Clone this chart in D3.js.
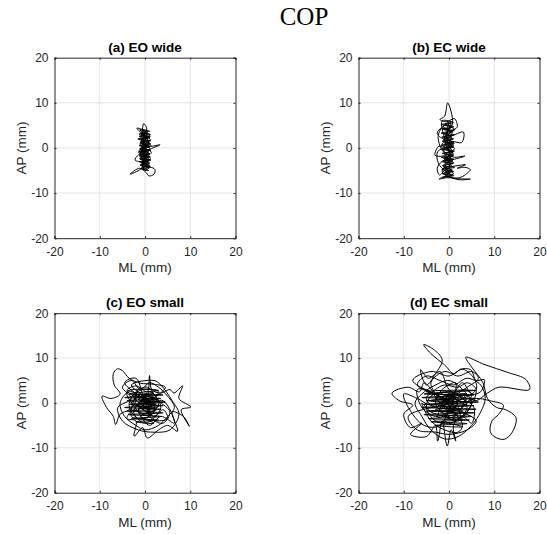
<!DOCTYPE html>
<html><head><meta charset="utf-8">
<script src="https://cdn.jsdelivr.net/npm/d3@7"></script>
<style>
html,body{margin:0;padding:0;background:#fff;}
svg{display:block;}
text{font-family:"Liberation Sans",Arial,sans-serif;}
</style></head>
<body>
<svg id="chart" width="547" height="534"></svg>
<script>
// ---------- data ----------
const figureTitle = "COP";
const panelTitles = ["(a) EO wide", "(b) EC wide", "(c) EO small", "(d) EC small"];
const xLabel = "ML (mm)";
const yLabel = "AP (mm)";
const tickValues = [-20, -10, 0, 10, 20];
const axisDomain = [-20, 20];

// COP trajectories [ML, AP] in mm
const copEOwide = [
 [0,0],[0.8,1.5],[-0.6,2.8],[0.5,3.6],[-1.2,4.3],[-1.8,4.4],[-0.8,3.5],[-0.3,5.4],[0.4,4.2],[-0.9,2.2],
 [1.1,1.0],[-1.0,-0.3],[0.9,-1.2],[-1.2,-2.0],[0.7,-0.5],[3.3,0.7],[1.0,0.4],[-0.8,1.8],[1.2,2.6],[-1.1,0.9],
 [0.3,-0.8],[-1.4,-1.5],[-2.2,-2.7],[-0.2,-3.0],[1.3,-2.4],[-1.0,-3.8],[0.8,-4.1],[-0.5,-2.7],[1.4,-1.0],[-0.7,0.5],
 [0.6,2.0],[-1.3,3.1],[1.0,3.0],[-0.4,1.0],[1.1,-0.2],[-1.5,-0.9],[0.2,-2.0],[-0.9,-4.6],[-3.3,-5.8],[-1.2,-4.5],
 [0.2,-5.4],[0.9,-6.2],[2.0,-5.8],[2.2,-4.8],[1.2,-4.3],[0.0,-5.0],[-0.6,-3.4],[1.0,-3.2],[-1.2,-2.4],[0.5,-1.5],
 [-0.8,-0.2],[1.3,0.5],[-0.2,1.6],[-1.6,2.0],[0.4,2.5],[-0.7,3.2],[1.2,1.8],[-1.0,1.2],[0.6,0.2],[-1.3,-0.6],
 [0.9,-2.0],[-0.4,-3.5],[1.1,-4.0],[-0.6,-4.8],[0.5,-3.0],[-1.1,-1.4],[0.3,0.8],[-0.5,-0.4],[0.8,-0.9],[-0.9,1.4],
 [0.5,3.0],[-1.2,4.0],[1.0,3.7],[-1.0,3.3],[1.2,3.0],[-1.3,2.6],[1.1,2.3],[-1.2,1.9],[1.3,1.6],[-1.1,1.2],
 [1.2,0.9],[-1.3,0.5],[1.1,0.2],[-1.2,-0.2],[1.3,-0.5],[-1.2,-0.9],[1.1,-1.3],[-1.3,-1.6],[1.2,-2.0],[-1.1,-2.4],
 [1.3,-2.7],[-1.2,-3.1],[1.0,-3.5],[-1.1,-3.8],[1.2,-4.2],[-0.9,-4.6],[0.8,-5.0],[-0.6,-4.4],[0.9,-3.9],[-0.8,-3.3],
 [0.7,-2.9],[-0.9,-2.5],[0.8,-2.1],[-0.7,-1.7],[0.9,-1.3],[-0.8,-0.8],[0.6,-0.4],[-0.9,0.1],[0.8,0.6],[-0.7,1.1],
 [0.9,1.5],[-0.8,2.0],[0.7,2.4],[-0.9,2.9],[0.6,3.3],[-0.5,3.9],[0.3,3.1],[-0.4,2.2],[0.4,1.3],[-0.3,0.4],
 [0.3,-0.6],[-0.4,-1.5],[0.4,-2.4],[-0.3,-3.3],[0.3,-4.2],[-0.2,-2.0],[0.0,0.0]
];
const copECwide = [
 [0,0],[-0.5,3.0],[0.8,5.5],[-0.3,10.0],[-1.0,7.0],[-2.0,6.3],[-0.5,5.8],[1.2,6.5],[1.8,4.6],[0.3,3.9],
 [-1.6,4.4],[-2.6,3.3],[-1.2,2.0],[0.9,2.8],[3.2,3.5],[2.8,1.2],[0.6,1.4],[-1.1,0.2],[0.8,-0.8],[-1.4,-1.8],
 [-3.1,-1.6],[-2.2,0.4],[-0.6,-0.2],[1.0,0.5],[-0.9,1.5],[0.7,3.4],[-1.3,4.8],[0.4,5.3],[-0.8,2.5],[1.1,1.0],
 [-1.2,-0.5],[0.9,-2.0],[3.5,-1.8],[0.8,-2.6],[-1.5,-3.0],[-2.6,-4.5],[-2.1,-6.0],[-1.0,-5.0],[0.5,-4.2],[2.0,-3.9],
 [3.7,-3.7],[1.8,-4.5],[3.5,-4.3],[4.7,-4.8],[3.5,-6.0],[2.3,-6.6],[-0.5,-6.6],[-2.2,-6.9],[-0.8,-6.3],[1.5,-6.8],
 [4.7,-6.9],[2.0,-7.0],[-1.0,-5.7],[0.6,-5.0],[-1.3,-4.0],[1.0,-3.2],[-0.9,-2.3],[0.7,-1.2],[-1.6,0.8],[0.6,2.1],
 [-0.7,3.5],[1.3,4.0],[-1.0,5.0],[-2.4,2.5],[-1.0,-1.0],[1.2,-0.2],[-0.4,1.2],[0.9,-1.6],[-1.2,-2.8],[0.4,-3.6],
 [-0.8,-4.6],[1.0,-5.6],[-0.3,-6.2],[-1.5,-5.3],[0.2,-2.2],[-0.6,0.6],[-1.5,6.0],[1.0,5.6],[-1.6,5.2],[1.1,4.7],
 [-1.5,4.2],[1.0,3.8],[-1.7,3.3],[1.2,2.9],[-1.6,2.4],[1.0,2.0],[-1.5,1.5],[1.1,1.1],[-1.7,0.6],[1.0,0.2],
 [-1.6,-0.3],[1.2,-0.7],[-1.5,-1.2],[1.0,-1.6],[-1.7,-2.1],[1.1,-2.5],[-1.6,-3.0],[1.0,-3.4],[-1.5,-3.9],[1.2,-4.3],
 [-1.6,-4.8],[1.0,-5.2],[-1.5,-5.7],[1.1,-6.1],[-1.4,-6.5],[0.8,-6.0],[-1.0,-5.4],[0.7,-4.9],[-1.1,-4.4],[0.6,-3.9],
 [-1.0,-3.3],[0.8,-2.8],[-1.2,-2.3],[0.7,-1.8],[-1.0,-1.3],[0.6,-0.8],[-1.1,-0.2],[0.8,0.3],[-1.0,0.9],[0.7,1.4],
 [-1.2,1.9],[0.6,2.5],[-1.0,3.0],[0.8,3.6],[-1.1,4.1],[0.6,4.6],[-0.9,5.2],[0.5,5.8],[-0.4,4.8],[0.3,3.6],
 [-0.5,2.4],[0.2,1.2],[-0.4,0.0],[0.3,-1.2],[-0.5,-2.4],[0.2,-3.6],[-0.4,-4.8],[0.2,-5.8],[-2.3,-3.5],[-2.5,-0.8],
 [-0.8,0.0],[0.0,0.0]
];
const copEOsmall = [
 [0,0],[2.5,1.5],[4.5,3.5],[1.5,4.2],[-1.0,4.4],[-3.5,5.5],[-5.0,7.2],[-6.1,7.6],[-7.0,6.5],[-6.8,4.0],
 [-5.5,2.0],[-7.5,1.0],[-9.5,1.5],[-8.5,-1.0],[-7.0,-3.0],[-6.5,-4.8],[-5.5,-2.5],[-3.5,-1.5],[-2.0,0.8],[-4.0,2.8],
 [-2.0,3.8],[0.5,2.5],[1.0,6.1],[1.5,3.0],[3.5,2.2],[5.5,3.0],[6.4,2.2],[8.3,3.8],[7.5,1.0],[10.1,-0.9],
 [8.0,-1.5],[9.8,-5.2],[8.5,-3.0],[6.0,-2.0],[7.2,-6.3],[5.0,-5.0],[3.0,-6.0],[0.5,-7.8],[-0.5,-5.5],[-2.4,-7.4],
 [-2.0,-4.0],[-4.0,-3.5],[-2.5,-1.5],[-0.5,-2.5],[1.5,-1.0],[0.0,1.0],[-1.5,-0.5],[1.0,-2.0],[3.0,-0.5],[2.0,1.0],
 [-1.0,1.5],[-3.0,0.0],[-1.0,-1.0],[2.0,-3.0],[4.0,-1.5],[5.0,-3.5],[2.5,-4.0],[0.0,-3.5],[-3.0,-3.0],[-1.5,2.0],
 [1.0,0.5],[3.0,2.5],[-0.5,3.0],[-2.5,1.5],[0.5,-1.0],[2.0,0.0],[-1.0,0.5],[1.5,-0.5],[-4.5,4.5],[-2.0,5.5],
 [0.5,0.0],[4.0,0.5],[6.5,-4.5],[3.5,-3.0],[1.0,-5.0],[-1.5,-2.0],[-4.0,2.5],[3.0,2.8],[-3.5,2.0],[4.0,1.8],
 [-4.5,1.2],[3.5,1.0],[-4.0,0.5],[4.5,0.2],[-3.5,-0.3],[4.0,-0.6],[-4.5,-1.0],[3.5,-1.4],[-4.0,-1.8],[4.0,-2.2],
 [-3.5,-2.6],[3.5,-3.0],[-3.0,-3.5],[3.0,-3.8],[-2.0,-4.2],[2.0,-4.5],[-1.0,-3.0],[2.5,-1.5],[-2.0,-0.5],[3.0,0.5],
 [-2.5,1.5],[2.0,2.2],[-1.5,0.8],[2.5,-0.2],[-1.0,-1.2],[3.0,-0.8],[-0.5,0.5],[2.0,1.2],[-1.5,-1.8],[1.5,-2.5],
 [-0.5,-0.3],[2.5,0.8],[0.0,1.8],[1.0,-1.5],[-1.0,0.0],[2.0,-0.5],[0.5,1.0],[-3.0,4.0],[2.0,5.0],[3.5,4.0],
 [6.0,0.5],[7.5,-2.5],[5.5,-6.0],[1.5,-6.5],[-1.5,-6.0],[-5.0,-4.0],[-6.0,-1.0],[-3.0,1.0],[-5.0,3.5],[-3.0,5.0],
 [-1.0,3.0],[1.0,4.5],[3.0,3.5],[5.0,1.5],[6.5,-1.0],[5.0,-3.0],[3.0,-5.0],[0.0,-6.0],[-2.0,-5.0],[-4.5,-3.0],
 [-5.5,0.0],[-3.5,2.5],[-0.5,1.0],[1.5,-3.5],[4.0,-4.5],[5.5,-2.0],[3.0,0.5],[0.5,3.5],[-2.0,2.5],[-3.5,-0.5],
 [-1.5,-3.5],[2.0,-2.0],[1.0,1.5],[-2.5,-2.0],[0.0,-4.5],[3.5,-1.0],[1.0,2.5],[-1.5,-1.5],[0.0,0.0]
];
const copECsmall = [
 [0,0],[-3,2],[-5.5,4.5],[-6.5,2.5],[-9,3.5],[-12.6,2.2],[-11,0.5],[-8,-0.5],[-10,-2.5],[-8.5,-5.5],
 [-6,-4.5],[-8.5,-7],[-5,-7.5],[-3,-5],[-2.5,-8.5],[-1.5,-4],[-0.4,-9.6],[0.5,-6],[1.5,-8.5],[1,-5],
 [3,-3],[5,-4.5],[5.5,-1],[3,1],[0,3],[-2,7],[-4.5,5.5],[-6.3,7.4],[-5,4],[-3,6.5],
 [-1.5,9.6],[-3.5,12],[-5.6,13.0],[-4,11],[-1,8.5],[1.1,6.5],[2.5,7.5],[4.8,7.4],[6,5],[7.8,5.2],
 [7,2.5],[5,2],[3,4.5],[1,2],[-1,-1],[2,-2],[4,1],[6,0.5],[8.5,2.2],[11,3.5],
 [17.8,3.0],[17.0,5.2],[13,6.8],[8,8.5],[3.7,10.2],[5,8],[7.5,4.5],[8.5,1],[10.5,-1],[12.5,-1.5],
 [14.8,-3.3],[14,-6.5],[12.2,-8.1],[10,-7.5],[9.1,-6.3],[9.5,-4],[11,-2.5],[12,-0.5],[9,0.5],[6,1],
 [3,0],[0,1.5],[-3,-1],[-5,1],[-3,3],[-1,4],[2,3.5],[4,4.5],[6,3],[4,-2],
 [2,-4],[-1,-3],[-4,-2],[-6,0],[-4,-4],[-1,-6],[2,-6.5],[3,-5],[1,-2],[-2,0],
 [-4,2.5],[-7,3],[-6,-1],[-3,-3],[0,-2],[3,-1],[5,2],[3,3],[0,0.5],[-2,-2],
 [1,-1],[2,1],[-5,2.5],[6,2.8],[-5.5,2.0],[5.5,1.8],[-6,1.2],[6,1.0],[-5,0.5],[6.5,0.2],
 [-5.5,-0.3],[5.5,-0.6],[-6,-1.0],[6,-1.4],[-5,-1.8],[5.5,-2.2],[-5.5,-2.6],[5,-3.0],[-4.5,-3.5],[4.5,-3.8],
 [-4,-4.2],[4,-4.6],[-3,-5.0],[3,-5.3],[-1,-4.0],[2,-2.5],[-3,-1.5],[4,-0.5],[-4,0.5],[3,1.5],
 [-2,2.3],[1,0.5],[-2,-1],[3,-1.8],[-1,-3],[2,0],[-3,1],[4,2],[0,-0.5],[-1.5,1.5],
 [2.5,-3.5],[0.5,2.5],[-2.5,-3.2],[1.5,-1],[-8,5],[-4,7],[0,6],[3,7.5],[5.5,5.5],[6,3],
 [2,0.5],[-9,-3],[-7,-6],[-3,-6.5],[0,-7],[4,-6],[6,-4],[2,-1.5],[-1,1],[-7,4],
 [-5,6],[-2,5],[1,4],[4,5.5],[7,4],[8,1],[7,-2],[5,-5],[2,-7.5],[-1,-8],
 [-4,-6],[-6,-3],[-7.5,0],[-6,2],[-3,4],[0,5],[3,3],[5,0],[3,-3],[0,-4.5],
 [-3,-4],[-5,-1],[-4,1.5],[-1,2.5],[2,2],[4,-1],[2,-3.5],[-1,-2.5],[-3,0],[-1.5,3],
 [1.5,4.5],[-2,-5],[-5.5,-5],[-9,-1],[-10,2],[-7,1],[-4,-0.5],[0,1],[4,3.5],[6.5,5.5],
 [5,7],[2,6],[-1,7],[-4,4.5],[-2,1],[0,0]
];
const panelData = [copEOwide, copECwide, copEOsmall, copECsmall];

// ---------- layout ----------
const panels = [
  {left: 54.5, top: 57.7, w: 181, h: 180.5},
  {left: 358.5, top: 57.7, w: 181, h: 180.5},
  {left: 54.5, top: 313.2, w: 181, h: 179.5},
  {left: 358.5, top: 313.2, w: 181, h: 179.5}
];

const svg = d3.select("#chart");
const axisColor = "#262626";

svg.append("text")
  .attr("x", 304).attr("y", 25)
  .attr("text-anchor", "middle")
  .style("font-family", "'Liberation Serif','Times New Roman',serif")
  .style("font-size", "25px")
  .attr("fill", "#000")
  .text(figureTitle);

panels.forEach((p, i) => {
  const x = d3.scaleLinear().domain(axisDomain).range([p.left, p.left + p.w]);
  const y = d3.scaleLinear().domain(axisDomain).range([p.top + p.h, p.top]);
  const g = svg.append("g");

  // grid
  g.append("g").selectAll("line").data(tickValues.slice(1, -1)).join("line")
    .attr("x1", d => x(d)).attr("x2", d => x(d))
    .attr("y1", p.top).attr("y2", p.top + p.h)
    .attr("stroke", "#dcdcdc").attr("stroke-width", 0.8);
  g.append("g").selectAll("line").data(tickValues.slice(1, -1)).join("line")
    .attr("y1", d => y(d)).attr("y2", d => y(d))
    .attr("x1", p.left).attr("x2", p.left + p.w)
    .attr("stroke", "#dcdcdc").attr("stroke-width", 0.8);

  // trajectory
  const line = d3.line().x(d => x(d[0])).y(d => y(d[1])).curve(d3.curveCatmullRom.alpha(0.5));
  g.append("path").datum(panelData[i])
    .attr("d", line)
    .attr("fill", "none").attr("stroke", "#000").attr("stroke-width", 1)
    .attr("stroke-linejoin", "round");

  // axes (ticks inside, box)
  const fmt = d => String(d);
  const bottom = g.append("g").attr("transform", `translate(0,${p.top + p.h})`)
    .call(d3.axisBottom(x).tickValues(tickValues).tickSize(-2).tickPadding(8).tickFormat(fmt));
  const left = g.append("g").attr("transform", `translate(${p.left},0)`)
    .call(d3.axisLeft(y).tickValues(tickValues).tickSize(-2).tickPadding(8).tickFormat(fmt));
  const top = g.append("g").attr("transform", `translate(0,${p.top})`)
    .call(d3.axisTop(x).tickValues(tickValues).tickSize(-2).tickFormat(""));
  const right = g.append("g").attr("transform", `translate(${p.left + p.w},0)`)
    .call(d3.axisRight(y).tickValues(tickValues).tickSize(-2).tickFormat(""));
  [bottom, left, top, right].forEach(a => {
    a.select(".domain").attr("stroke", axisColor).attr("stroke-width", 1);
    a.selectAll(".tick line").attr("stroke", axisColor);
    a.selectAll(".tick text").attr("fill", axisColor)
      .style("font-family", "'Liberation Sans',Arial,sans-serif").style("font-size", "12px");
  });
  bottom.selectAll(".tick text").attr("dy", "0.71em").attr("y", 9);
  left.selectAll(".tick text").attr("x", -6);

  // titles and labels
  g.append("text")
    .attr("x", p.left + p.w / 2).attr("y", p.top - 6)
    .attr("text-anchor", "middle").attr("font-weight", "bold")
    .style("font-size", "13.5px").attr("fill", "#000")
    .text(panelTitles[i]);
  g.append("text")
    .attr("x", p.left + p.w / 2).attr("y", p.top + p.h + 34)
    .attr("text-anchor", "middle").style("font-size", "13.5px").attr("fill", axisColor)
    .text(xLabel);
  g.append("text")
    .attr("transform", `translate(${p.left - 29},${p.top + p.h / 2}) rotate(-90)`)
    .attr("text-anchor", "middle").style("font-size", "13.5px").attr("fill", axisColor)
    .text(yLabel);
});
</script>
</body></html>
